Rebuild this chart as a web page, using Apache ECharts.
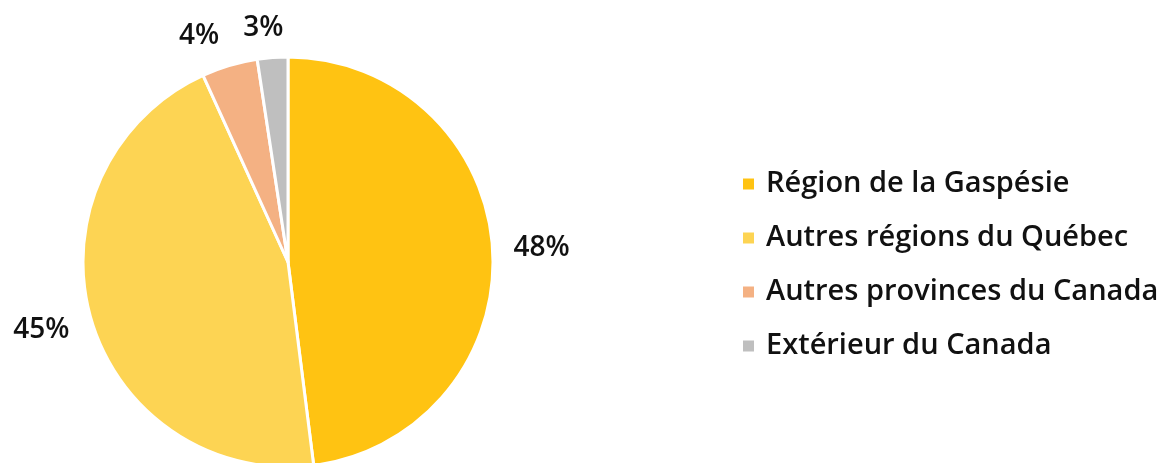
<!DOCTYPE html>
<html>
<head>
<meta charset="utf-8">
<script src="https://cdn.jsdelivr.net/npm/echarts@6/dist/echarts.min.js"></script>
<style>
html,body{margin:0;padding:0;background:#fff;}
#chart{width:1160px;height:463px;}
</style>
</head>
<body>
<div id="chart"></div>
<script>
const categories = ["Région de la Gaspésie", "Autres régions du Québec", "Autres provinces du Canada", "Extérieur du Canada"];
const values = [48.0, 45.2, 4.4, 2.4];
const labels = ["48%", "45%", "4%", "3%"];
const colors = ["#FFC312", "#FDD453", "#F4B183", "#BFBFBF"];

// label nudges (style only) to mimic the spreadsheet's "best fit" label placement
const labelNudge = [[-4, 0], [3, 8], [4, -15], [22, -15]];

const chart = echarts.init(document.getElementById('chart'), null, {renderer: 'canvas'});
const FONT = 'Open Sans';
chart.setOption({
  animation: false,
  backgroundColor: '#ffffff',
  color: colors,
  legend: {
    orient: 'vertical',
    left: 736,
    top: 164,
    itemWidth: 13,
    itemHeight: 13,
    itemGap: 24,
    icon: 'rect',
    data: categories,
    textStyle: {fontFamily: FONT, fontSize: 29, fontWeight: 600, color: '#111', lineHeight: 30, padding: [0, 0, 0, 6]}
  },
  series: [{
    type: 'pie',
    center: [288, 262],
    radius: 205,
    startAngle: 90,
    clockwise: true,
    avoidLabelOverlap: false,
    itemStyle: {borderColor: '#ffffff', borderWidth: 3},
    label: {
      show: true,
      position: 'outside',
      fontFamily: FONT,
      fontSize: 28,
      fontWeight: 600,
      color: '#111',
      formatter: p => labels[p.dataIndex]
    },
    labelLine: {show: false, length: 15, length2: 5},
    labelLayout: p => ({dx: labelNudge[p.dataIndex][0], dy: labelNudge[p.dataIndex][1]}),
    data: categories.map((c, i) => ({name: c, value: values[i]}))
  }]
});
</script>
</body>
</html>
